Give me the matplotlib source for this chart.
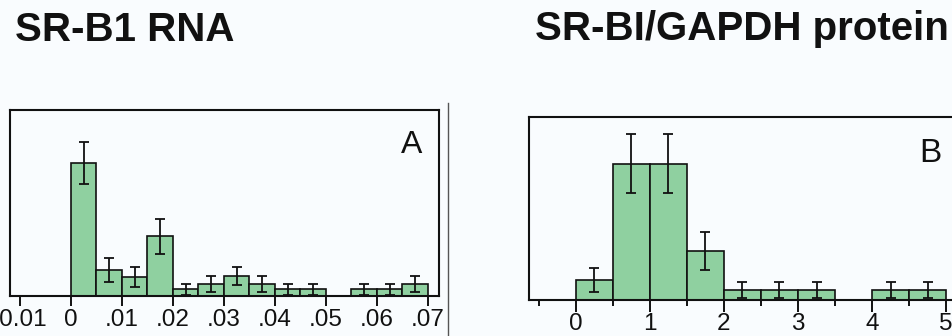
import matplotlib
matplotlib.use("Agg")
import matplotlib.pyplot as plt
from matplotlib.lines import Line2D
import numpy as np

plt.rcParams['font.family'] = ['Liberation Sans', 'DejaVu Sans']

# ---- data ----
titles = ["SR-B1 RNA", "SR-BI/GAPDH protein"]
panel_labels = ["A", "B"]

rna_bin_left = [0.000, 0.005, 0.010, 0.015, 0.020, 0.025, 0.030,
                0.035, 0.040, 0.045, 0.050, 0.055, 0.060, 0.065]
rna_bin_width = 0.005
rna_values = [20, 3.9, 2.9, 9, 1, 1.8, 3, 1.8, 1, 1, 0, 1, 1, 1.8]
rna_errors = [3.17, 1.76, 1.5, 2.67, 0.8, 1.2, 1.4, 1.2, 0.8, 0.8, 0, 0.8, 0.8, 1.2]
rna_ticks = [-0.01, 0, 0.01, 0.02, 0.03, 0.04, 0.05, 0.06, 0.07]
rna_ticklabels = ["-0.01", "0", ".01", ".02", ".03", ".04", ".05", ".06", ".07"]

prot_bin_left = [0.0, 0.5, 1.0, 1.5, 2.0, 2.5, 3.0, 3.5, 4.0, 4.5]
prot_bin_width = 0.5
prot_values = [2, 14, 14, 5, 1, 1, 1, 0, 1, 1]
prot_errors = [1.22, 3.06, 3.06, 1.98, 0.85, 0.85, 0.85, 0, 0.85, 0.85]
prot_ticks = [0, 1, 2, 3, 4, 5]
prot_ticklabels = ["0", "1", "2", "3", "4", "5"]
prot_minor_ticks = [-0.5, 0.5, 1.5, 2.5, 3.5, 4.5]

# ---- style ----
W, H = 953, 336
bg = '#f9fcfe'
green = '#8fd0a0'
ink = '#111111'

fig = plt.figure(figsize=(W / 100, H / 100), dpi=100, facecolor=bg)


def draw_hist(ax, left, width, vals, errs):
    left = np.asarray(left, dtype=float)
    vals = np.asarray(vals, dtype=float)
    errs = np.asarray(errs, dtype=float)
    ax.bar(left, vals, width=width, align='edge', color=green,
           edgecolor=ink, linewidth=1.2, zorder=2)
    m = vals > 0
    centers = left + width / 2
    ax.errorbar(centers[m], vals[m], yerr=errs[m], fmt='none', ecolor=ink,
                elinewidth=1.3, capsize=3.3, capthick=1.3, zorder=3)


# Panel A
axA = fig.add_axes([10 / W, 40 / H, 429 / W, 186 / H])
axA.set_facecolor(bg)
draw_hist(axA, rna_bin_left, rna_bin_width, rna_values, rna_errors)
axA.set_xlim(-0.01196, 0.07216)
axA.set_ylim(0, 28.05)
axA.set_xticks(rna_ticks)
axA.set_xticklabels(rna_ticklabels)
axA.set_yticks([])
axA.tick_params(axis='x', length=7, width=1.4, pad=2, labelsize=17.5, colors=ink)
for s in axA.spines.values():
    s.set_linewidth(1.5)
    s.set_color(ink)
axA.text(0.936, 0.769, panel_labels[0], transform=axA.transAxes, ha='center',
         va='baseline', fontsize=23, color=ink)

# Panel B
axB = fig.add_axes([529.3 / W, 36.5 / H, 429 / W, 183 / H])
axB.set_facecolor(bg)
draw_hist(axB, prot_bin_left, prot_bin_width, prot_values, prot_errors)
axB.set_xlim(-0.626, 5.163)
axB.set_ylim(0, 18.87)
axB.set_xticks(prot_ticks)
axB.set_xticklabels(prot_ticklabels)
axB.set_xticks(prot_minor_ticks, minor=True)
axB.set_yticks([])
axB.tick_params(axis='x', which='major', length=8.6, width=1.4, pad=1,
                labelsize=17.5, colors=ink)
axB.tick_params(axis='x', which='minor', length=4.3, width=1.4, colors=ink)
for s in axB.spines.values():
    s.set_linewidth(1.5)
    s.set_color(ink)
axB.text(0.934, 0.753, panel_labels[1], transform=axB.transAxes, ha='center',
         va='baseline', fontsize=24, color=ink)

# Titles
fig.text(15 / W, 1 - 40.7 / H, titles[0], fontsize=29, fontweight='bold',
         ha='left', va='baseline', color=ink)
fig.text(535 / W, 1 - 40 / H, titles[1], fontsize=29, fontweight='bold',
         ha='left', va='baseline', color=ink)

# Divider line
fig.add_artist(Line2D([448.3 / W, 448.3 / W], [0, 1 - 102.7 / H],
                      transform=fig.transFigure, color='#555555', linewidth=1.0))

fig.savefig('out.png', dpi=100, facecolor=bg)
